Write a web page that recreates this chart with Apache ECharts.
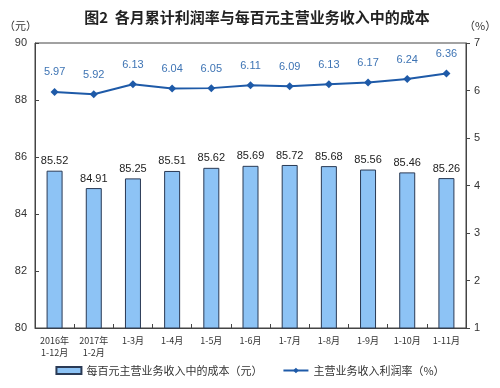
<!DOCTYPE html>
<html><head><meta charset="utf-8">
<script src="https://cdn.jsdelivr.net/npm/echarts@6/dist/echarts.min.js"></script>
<style>html,body{margin:0;padding:0;background:#fff}#c{width:500px;height:388px}</style>
</head><body><div id="c"></div>
<script>
var categories = ['2016年\n1-12月','2017年\n1-2月','1-3月','1-4月','1-5月','1-6月','1-7月','1-8月','1-9月','1-10月','1-11月'];
var costValues = [85.52,84.91,85.25,85.51,85.62,85.69,85.72,85.68,85.56,85.46,85.26];
var profitRate = [5.97,5.92,6.13,6.04,6.05,6.11,6.09,6.13,6.17,6.24,6.36];
var leftTicks = [80,82,84,86,88,90];
var rightTicks = [1,2,3,4,5,6,7];

var F = '"Liberation Sans", "Noto Sans CJK SC", sans-serif';
var C = '"Noto Sans CJK SC", sans-serif';
var chart = echarts.init(document.getElementById('c'));
chart.setOption({
  animation:false,
  title:{text:'图2  各月累计利润率与每百元主营业务收入中的成本',left:252,textAlign:'center',top:5,
    textStyle:{fontSize:15,fontWeight:'bold',color:'#222',fontFamily:C}},
  grid:{left:35,right:34,top:43,bottom:60,show:true,borderColor:'#444',borderWidth:1},
  legend:{bottom:7,left:'center',itemGap:20,itemWidth:25,itemHeight:7,
    textStyle:{fontSize:11,color:'#333',fontFamily:C},
    data:[{name:'每百元主营业务收入中的成本（元）',icon:'rect'},{name:'主营业务收入利润率（%）'}]},
  xAxis:{type:'category',data:categories,
    axisLine:{lineStyle:{color:'#444'}},
    axisTick:{show:true,inside:true,length:4,lineStyle:{color:'#444'}},
    axisLabel:{fontSize:9,color:'#333',lineHeight:12,interval:0,fontFamily:C,margin:7}},
  yAxis:[
    {type:'value',min:80,max:90,interval:2,name:'（元）',nameLocation:'end',nameGap:12,
     nameTextStyle:{fontSize:11,color:'#333',align:'right',padding:[0,-2,0,0],fontFamily:C},
     axisLine:{show:true,lineStyle:{color:'#444'}},axisTick:{show:true,inside:true,length:4,lineStyle:{color:'#444'}},
     splitLine:{show:false},axisLabel:{fontSize:11,color:'#333',fontFamily:F,margin:8}},
    {type:'value',min:1,max:7,interval:1,name:'（%）',nameLocation:'end',nameGap:12,
     nameTextStyle:{fontSize:11,color:'#333',align:'left',padding:[0,0,0,-2],fontFamily:C},
     axisLine:{show:true,lineStyle:{color:'#444'}},axisTick:{show:true,length:4,lineStyle:{color:'#444'}},
     splitLine:{show:false},axisLabel:{fontSize:11,color:'#333',fontFamily:F,margin:8}}
  ],
  series:[
    {name:'每百元主营业务收入中的成本（元）',type:'bar',data:costValues,barWidth:16,
     itemStyle:{color:'#8DC3F5',borderColor:'#2a3a55',borderWidth:1},
     label:{show:true,position:'top',distance:4,fontSize:11,color:'#222',fontFamily:F}},
    {name:'主营业务收入利润率（%）',type:'line',yAxisIndex:1,data:profitRate,
     symbol:'diamond',symbolSize:8,
     lineStyle:{color:'#1E5AA8',width:2},itemStyle:{color:'#1E5AA8'},
     label:{show:true,position:'top',distance:10,fontSize:11,color:'#3E74B4',fontFamily:F}}
  ]
});
</script></body></html>
